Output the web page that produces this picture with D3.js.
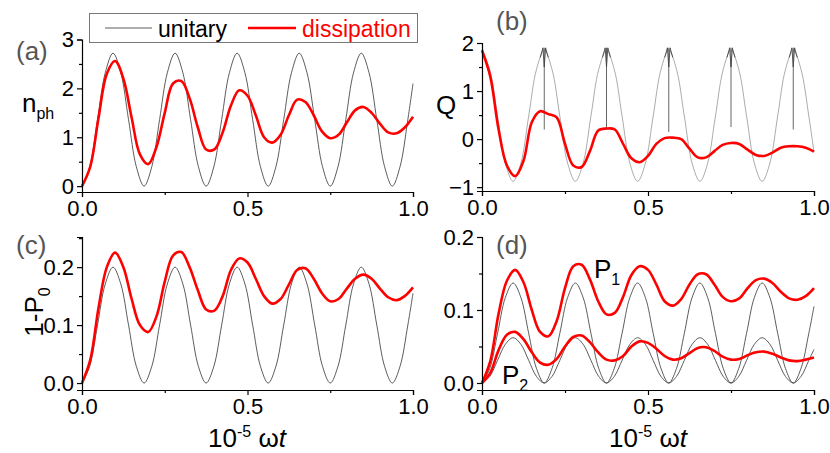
<!DOCTYPE html>
<html><head><meta charset="utf-8">
<script src="https://cdn.jsdelivr.net/npm/d3@7"></script>
<style>body{margin:0;background:#fff}svg{font-family:"Liberation Sans",Arial,sans-serif}</style>
</head><body><svg id="c" width="830" height="453"></svg>
<script>
const tGrid = d3.range(0, 41).map(i => i / 40);
const tUnit = d3.range(0, 43).map(i => i * 0.0234375).concat([1]);
const nphUnitary = [0,0.4,1.36,2.32,2.72,2.32,1.36,0.4, 0,0.4,1.36,2.32,2.72,2.32,1.36,0.4, 0,0.4,1.36,2.32,2.72,2.32,1.36,0.4, 0,0.4,1.36,2.32,2.72,2.32,1.36,0.4, 0,0.4,1.36,2.32,2.72,2.32,1.36,0.4, 0,0.4,1.36,2.1];
const nphDiss = [0,0.4,1.4,2.3,2.56,2.2,1.4,0.65,0.45,0.8,1.5,2.1,2.15,1.8,1.2,0.75,0.75,1.1,1.65,1.96,1.85,1.45,1.0,0.89,1.05,1.45,1.77,1.72,1.45,1.12,0.98,1.05,1.3,1.55,1.62,1.5,1.28,1.1,1.08,1.2,1.42];
const qUnitary = [1.85,1.45,0.48,-0.5,-0.88,-0.5,0.48,1.45, 1.85,1.45,0.48,-0.5,-0.88,-0.5,0.48,1.45, 1.85,1.45,0.48,-0.5,-0.88,-0.5,0.48,1.45, 1.85,1.45,0.48,-0.5,-0.88,-0.5,0.48,1.45, 1.85,1.45,0.48,-0.5,-0.88,-0.5,0.48,1.45, 1.85,1.45,0.48,-0.27];
const qDiss = [1.85,1.3,0.2,-0.55,-0.77,-0.45,0.35,0.58,0.52,0.45,-0.1,-0.55,-0.58,-0.25,0.18,0.22,0.2,-0.1,-0.4,-0.48,-0.35,-0.1,0.02,0.03,0.0,-0.2,-0.38,-0.38,-0.25,-0.12,-0.08,-0.1,-0.22,-0.33,-0.35,-0.28,-0.18,-0.15,-0.15,-0.18,-0.26];
const qSpikeT = [0.1875,0.375,0.5625,0.75,0.9375];
const qSpikeLow = [0.2,0.2,0.15,0.25,0.2];
const p0Unitary = [0,0.029,0.1,0.171,0.2,0.171,0.1,0.029, 0,0.029,0.1,0.171,0.2,0.171,0.1,0.029, 0,0.029,0.1,0.171,0.2,0.171,0.1,0.029, 0,0.029,0.1,0.171,0.2,0.171,0.1,0.029, 0,0.029,0.1,0.171,0.2,0.171,0.1,0.029, 0,0.029,0.1,0.155];
const p0Diss = [0,0.04,0.13,0.2,0.225,0.2,0.145,0.1,0.088,0.115,0.175,0.22,0.226,0.2,0.16,0.127,0.125,0.15,0.195,0.215,0.208,0.18,0.15,0.137,0.145,0.17,0.195,0.198,0.18,0.155,0.141,0.145,0.163,0.18,0.187,0.18,0.163,0.148,0.143,0.15,0.165];
const p1Unitary = [0,0.02,0.068,0.117,0.137,0.117,0.068,0.02, 0,0.02,0.068,0.117,0.137,0.117,0.068,0.02, 0,0.02,0.068,0.117,0.137,0.117,0.068,0.02, 0,0.02,0.068,0.117,0.137,0.117,0.068,0.02, 0,0.02,0.068,0.117,0.137,0.117,0.068,0.02, 0,0.02,0.068,0.105];
const p2Unitary = [0,0.009,0.031,0.053,0.062,0.053,0.031,0.009, 0,0.009,0.031,0.053,0.062,0.053,0.031,0.009, 0,0.009,0.031,0.053,0.062,0.053,0.031,0.009, 0,0.009,0.031,0.053,0.062,0.053,0.031,0.009, 0,0.009,0.031,0.053,0.062,0.053,0.031,0.009, 0,0.009,0.031,0.046];
const p1Diss = [0,0.03,0.095,0.14,0.155,0.138,0.1,0.07,0.064,0.085,0.13,0.16,0.162,0.142,0.112,0.094,0.096,0.118,0.148,0.16,0.155,0.135,0.112,0.106,0.115,0.135,0.149,0.149,0.135,0.118,0.112,0.116,0.13,0.141,0.143,0.137,0.125,0.116,0.114,0.119,0.13];
const p2Diss = [0,0.014,0.045,0.066,0.07,0.06,0.042,0.028,0.025,0.033,0.05,0.063,0.065,0.056,0.042,0.032,0.031,0.037,0.05,0.057,0.055,0.047,0.037,0.032,0.034,0.041,0.048,0.049,0.044,0.036,0.032,0.033,0.038,0.042,0.043,0.04,0.035,0.031,0.03,0.032,0.035];
const xTicks = [0, 0.5, 1.0];

const svg = d3.select("#c");
const GREY = "#333", RED = "#ff0000";

function panel(o) {
  const x = d3.scaleLinear().domain([0, 1]).range([o.x0, o.x1]);
  const y = d3.scaleLinear().domain(o.yDom).range([o.yB, o.yT]);
  const g = svg.append("g");
  const lineU = d3.line().x((d, i) => x(tUnit[i])).y(d => y(d)).curve(d3.curveCatmullRom.alpha(0.5));
  const line = d3.line().x((d, i) => x(tGrid[i])).y(d => y(d)).curve(d3.curveCatmullRom.alpha(0.5));
  o.grey.forEach(s => g.append("path").attr("d", lineU(s)).attr("fill", "none").attr("stroke", o.greyCol || GREY).attr("stroke-width", o.greyW || 0.8));
  if (o.extra) o.extra(g, x, y);
  o.red.forEach(s => g.append("path").attr("d", line(s)).attr("fill", "none").attr("stroke", RED).attr("stroke-width", 2.6));
  g.append("g").attr("transform", `translate(0,${o.yB})`)
    .call(d3.axisBottom(x).tickValues(xTicks).tickFormat(d3.format(".1f")).tickSize(5).tickPadding(3));
  g.append("g").attr("transform", `translate(0,${o.yB})`)
    .call(d3.axisBottom(x).tickValues([0.25, 0.75]).tickFormat("").tickSize(3)).select(".domain").remove();
  g.append("g").attr("transform", `translate(${o.x0},0)`)
    .call(d3.axisLeft(y).tickValues(o.yTicks).tickFormat(o.fmt).tickSize(5).tickPadding(3));
  g.append("g").attr("transform", `translate(${o.x0},0)`)
    .call(d3.axisLeft(y).tickValues(o.yMinor).tickFormat("").tickSize(3)).select(".domain").remove();
  g.selectAll(".tick text").attr("font-size", 22).attr("fill", "#000").attr("font-family", "Liberation Sans, Arial, sans-serif");
  g.selectAll(".domain, .tick line").attr("stroke", "#000").attr("stroke-width", 1.2);
  return {x, y, g};
}

panel({x0:82, x1:413, yB:192, yT:39.5, yDom:[-0.12, 3], yTicks:[0,1,2,3], yMinor:[0.5,1.5,2.5], fmt:d3.format("d"),
  grey:[nphUnitary], red:[nphDiss]});
panel({x0:482, x1:814, yB:191, yT:43, yDom:[-1.08, 2], yTicks:[-1,0,1,2], yMinor:[-0.5,0.5,1.5], fmt:d3.format("d"),
  grey:[qUnitary], red:[qDiss], greyCol:"#888", greyW:0.7,
  extra:(g, x, y) => {
    qSpikeT.forEach((t, i) => {
      g.append("line").attr("x1", x(t)).attr("x2", x(t)).attr("y1", y(1.9)).attr("y2", y(qSpikeLow[i])).attr("stroke", "#555").attr("stroke-width", 0.9);
      g.append("path").attr("d", `M${x(t-0.012)},${y(1.7)}L${x(t-0.004)},${y(1.9)}L${x(t)},${y(1.5)}L${x(t+0.004)},${y(1.9)}L${x(t+0.012)},${y(1.7)}`)
        .attr("fill", "none").attr("stroke", "#444").attr("stroke-width", 0.9);
    });
  }});
panel({x0:82, x1:413, yB:390, yT:237, yDom:[-0.012, 0.252], yTicks:[0,0.1,0.2], yMinor:[0.05,0.15,0.25], fmt:d3.format(".1f"),
  grey:[p0Unitary], red:[p0Diss]});
panel({x0:482, x1:814, yB:390, yT:237, yDom:[-0.0096, 0.2], yTicks:[0,0.1,0.2], yMinor:[0.05,0.15], fmt:d3.format(".1f"),
  grey:[p1Unitary, p2Unitary], red:[p1Diss, p2Diss]});

const T = (x, y, s, size, fill, anchor) => svg.append("text").attr("x", x).attr("y", y).attr("font-size", size).attr("fill", fill || "#000").attr("text-anchor", anchor || "start").text(s);
T(16, 60, "(a)", 26, "#555");
T(496, 30, "(b)", 26, "#555");
T(16, 254, "(c)", 26, "#555");
T(496, 254, "(d)", 26, "#555");
const nph = T(22, 112, "n", 26);
nph.append("tspan").attr("font-size", 16).attr("dy", 7).text("ph");
T(436, 114, "Q", 26);
const p0 = svg.append("text").attr("transform", "translate(43,312) rotate(-90)").attr("text-anchor", "middle").attr("font-size", 26).text("1-P");
p0.append("tspan").attr("font-size", 16).attr("dy", 7).text("0");
[247, 648].forEach(cx => {
  const t = svg.append("text").attr("x", cx).attr("y", 447).attr("text-anchor", "middle").attr("font-size", 26).text("10");
  t.append("tspan").attr("font-size", 16).attr("dy", -10).text("-5");
  t.append("tspan").attr("dy", 10).text(" ω");
  t.append("tspan").attr("font-style", "italic").text("t");
});
const P1 = T(594, 278, "P", 26); P1.append("tspan").attr("font-size", 16).attr("dy", 7).text("1");
const P2 = T(502, 384, "P", 26); P2.append("tspan").attr("font-size", 16).attr("dy", 7).text("2");

svg.append("rect").attr("x", 89.5).attr("y", 13.5).attr("width", 328).attr("height", 29).attr("fill", "#fff").attr("stroke", "#777").attr("stroke-width", 1);
svg.append("line").attr("x1", 105).attr("x2", 152).attr("y1", 28).attr("y2", 28).attr("stroke", GREY).attr("stroke-width", 0.8);
T(158, 37, "unitary", 23);
svg.append("line").attr("x1", 248).attr("x2", 296).attr("y1", 28).attr("y2", 28).attr("stroke", RED).attr("stroke-width", 2.6);
T(302, 37, "dissipation", 23, RED);
</script></body></html>
